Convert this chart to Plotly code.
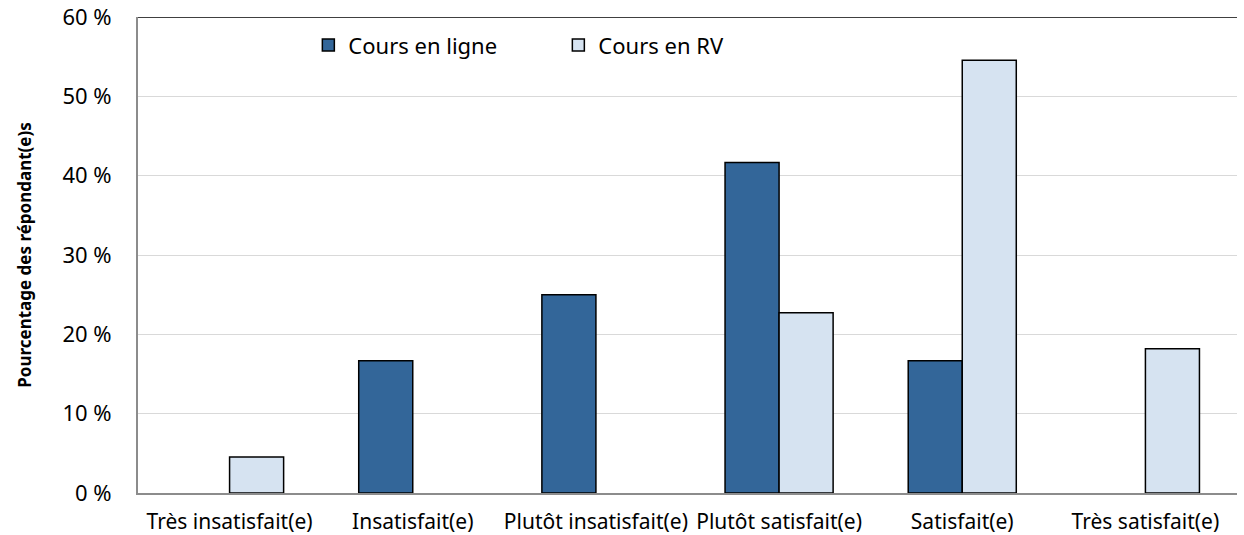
import plotly.graph_objects as go

categories = ["Très insatisfait(e)", "Insatisfait(e)", "Plutôt insatisfait(e)",
              "Plutôt satisfait(e)", "Satisfait(e)", "Très satisfait(e)"]
ligne = [0, 16.67, 25.0, 41.67, 16.67, 0]
rv = [4.55, 0, 0, 22.73, 54.55, 18.18]
y_ticks = [0, 10, 20, 30, 40, 50, 60]
y_labels = [f"{v} %" for v in y_ticks]

FONT = "Noto Sans"


def nz(vals):
    return [v if v else None for v in vals]


fig = go.Figure()
fig.add_trace(go.Bar(x=categories, y=nz(ligne), name="Cours en ligne",
                     marker=dict(color="#336699", line=dict(color="black", width=1.5))))
fig.add_trace(go.Bar(x=categories, y=nz(rv), name="Cours en RV",
                     marker=dict(color="#D6E3F1", line=dict(color="black", width=1.5))))

fig.update_layout(
    width=1244, height=535,
    margin=dict(l=138, r=7, t=17, b=42),
    paper_bgcolor="white", plot_bgcolor="white",
    barmode="group", bargap=0.41, bargroupgap=0,
    font=dict(family=FONT, size=20, color="black"),
    legend=dict(orientation="h", x=0.155, y=0.985, xanchor="left", yanchor="top",
                font=dict(size=22), bgcolor="rgba(0,0,0,0)", entrywidth=205),
    xaxis=dict(showline=True, linecolor="#8c8c8c", linewidth=2, ticks="",
               showgrid=False, tickfont=dict(size=21), ticklabelstandoff=9,
               automargin=False),
    yaxis=dict(range=[0, 60], tickvals=y_ticks, ticktext=y_labels,
               showline=True, linecolor="#8c8c8c", linewidth=2,
               showgrid=True, gridcolor="#d9d9d9", gridwidth=1,
               ticks="", ticklabelstandoff=20, tickfont=dict(size=22),
               ticklabeloverflow="allow",
               title=dict(text="<b>Pourcentage des répondant(e)s</b>", font=dict(size=17), standoff=26),
               zeroline=False, automargin=False),
    shapes=[dict(type="line", xref="paper", yref="y", x0=0, x1=1, y0=60, y1=60,
                 line=dict(color="black", width=1.5))],
)

fig.write_html("out.html", config={"displayModeBar": False},
               post_script="document.body.style.margin='0px';")
